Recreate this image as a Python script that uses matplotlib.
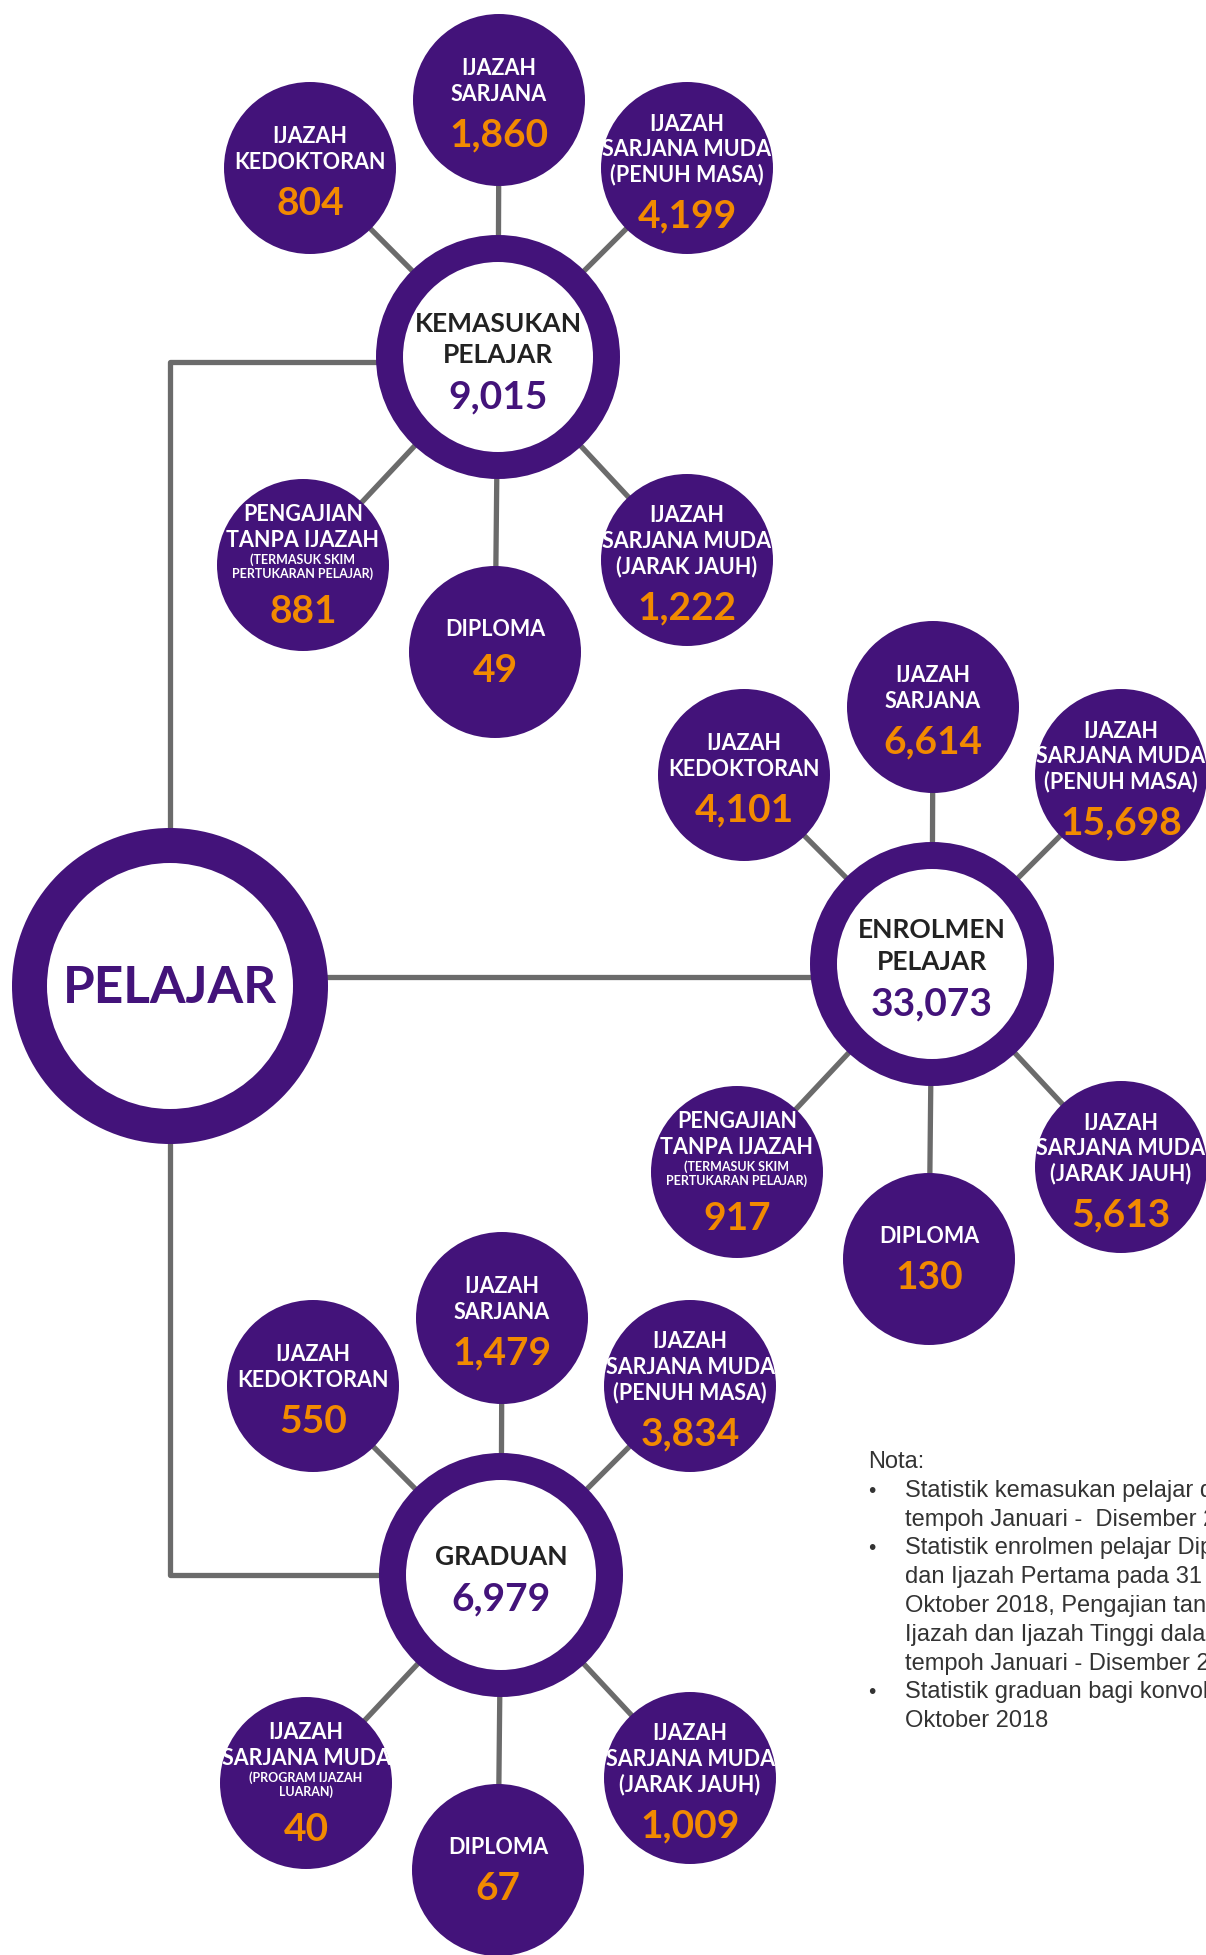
import matplotlib
matplotlib.use("Agg")
import matplotlib.pyplot as plt
from matplotlib.patches import Circle

# ---------------- data ----------------
root_label = "PELAJAR"

hub_labels = ["KEMASUKAN\nPELAJAR", "ENROLMEN\nPELAJAR", "GRADUAN"]
hub_totals = [9015, 33073, 6979]

kemasukan_labels = ["IJAZAH\nKEDOKTORAN", "IJAZAH\nSARJANA",
                    "IJAZAH\nSARJANA MUDA\n(PENUH MASA)",
                    "PENGAJIAN\nTANPA IJAZAH", "DIPLOMA",
                    "IJAZAH\nSARJANA MUDA\n(JARAK JAUH)"]
kemasukan_notes = ["", "", "", "(TERMASUK SKIM\nPERTUKARAN PELAJAR)", "", ""]
kemasukan_values = [804, 1860, 4199, 881, 49, 1222]

enrolmen_labels = ["IJAZAH\nKEDOKTORAN", "IJAZAH\nSARJANA",
                   "IJAZAH\nSARJANA MUDA\n(PENUH MASA)",
                   "PENGAJIAN\nTANPA IJAZAH", "DIPLOMA",
                   "IJAZAH\nSARJANA MUDA\n(JARAK JAUH)"]
enrolmen_notes = ["", "", "", "(TERMASUK SKIM\nPERTUKARAN PELAJAR)", "", ""]
enrolmen_values = [4101, 6614, 15698, 917, 130, 5613]

graduan_labels = ["IJAZAH\nKEDOKTORAN", "IJAZAH\nSARJANA",
                  "IJAZAH\nSARJANA MUDA\n(PENUH MASA)",
                  "IJAZAH\nSARJANA MUDA", "DIPLOMA",
                  "IJAZAH\nSARJANA MUDA\n(JARAK JAUH)"]
graduan_notes = ["", "", "", "(PROGRAM IJAZAH\nLUARAN)", "", ""]
graduan_values = [550, 1479, 3834, 40, 67, 1009]

nota_title = "Nota:"
nota_items = [
    ["Statistik kemasukan pelajar dalam", "tempoh Januari -  Disember 2018"],
    ["Statistik enrolmen pelajar Diploma", "dan Ijazah Pertama pada 31",
     "Oktober 2018, Pengajian tanpa", "Ijazah dan Ijazah Tinggi dalam",
     "tempoh Januari - Disember 2018"],
    ["Statistik graduan bagi konvokesyen", "Oktober 2018"],
]

# ---------------- style / layout ----------------
W, H = 1206, 1955
PURPLE = "#43137a"
ORANGE = "#f28a00"
GREY = "#6b6b6b"
DARK = "#222222"
FONT = "Lato"

root_pos = (170, 986)
root_r_out, root_r_in = 158, 123
hub_pos = [(498, 357), (932, 964), (501, 1575)]
hub_r_out, hub_r_in = 122, 95
sat_r = 86
# satellite offsets relative to hub centre
sat_offsets = [(-188, -189), (1, -257), (189, -189),
               (-195, 208), (-3, 295), (189, 203)]

fig = plt.figure(figsize=(W / 100, H / 100), dpi=100)
ax = fig.add_axes([0, 0, 1, 1])
ax.set_xlim(0, W)
ax.set_ylim(H, 0)
ax.axis("off")

LW = 3.8

# root connectors
line_y_top = 362
line_y_mid = 977
ax.plot([root_pos[0], root_pos[0], hub_pos[0][0]],
        [root_pos[1], line_y_top, line_y_top], color=GREY, lw=LW, zorder=1,
        solid_capstyle="butt")
ax.plot([root_pos[0], hub_pos[1][0]], [line_y_mid, line_y_mid],
        color=GREY, lw=LW, zorder=1, solid_capstyle="butt")
ax.plot([root_pos[0], root_pos[0], hub_pos[2][0]],
        [root_pos[1], hub_pos[2][1], hub_pos[2][1]], color=GREY, lw=LW, zorder=1,
        solid_capstyle="butt")

# root circle
ax.add_patch(Circle(root_pos, root_r_out, fc=PURPLE, ec="none", zorder=3))
ax.add_patch(Circle(root_pos, root_r_in, fc="white", ec="none", zorder=4))
ax.text(root_pos[0], root_pos[1] + 2, root_label, ha="center", va="center",
        color=PURPLE, fontsize=37, fontweight="bold", family=FONT, zorder=5)


def stack_text(cx, cy, label, note, value, hub=False):
    """Draw label lines, optional small note lines and the value, stacked."""
    items = []  # (text, kind)
    for ln in label.split("\n"):
        items.append((ln, "label"))
    if note:
        for ln in note.split("\n"):
            items.append((ln, "note"))
    items.append((f"{value:,}", "value"))
    ys = [0.0]
    lab_sp = 31 if hub else 25.5
    for i in range(1, len(items)):
        prev, cur = items[i - 1][1], items[i][1]
        if cur == "label":
            d = lab_sp
        elif cur == "note":
            d = 19 if prev == "label" else 14
        else:
            d = (42 if hub else 41) if prev == "label" else 38
        ys.append(ys[-1] + d)
    mid = (ys[0] + ys[-1]) / 2
    n_lab = sum(1 for _, k in items if k == "label")
    if hub:
        off = 3
    elif n_lab == 1 or note:
        off = -2
    else:
        off = 2
    for (txt, kind), y in zip(items, ys):
        yy = cy + y - mid + off
        if kind == "label":
            ax.text(cx, yy, txt, ha="center", va="center",
                    color=DARK if hub else "white",
                    fontsize=19 if hub else 15.5, fontweight="bold",
                    family=FONT, zorder=7)
        elif kind == "note":
            ax.text(cx, yy, txt, ha="center", va="center", color="white",
                    fontsize=9, fontweight="bold", family=FONT, zorder=7)
        else:
            ax.text(cx, yy, txt, ha="center", va="center",
                    color=PURPLE if hub else ORANGE,
                    fontsize=28, fontweight="bold",
                    family=FONT, zorder=7)


groups = [
    (kemasukan_labels, kemasukan_notes, kemasukan_values),
    (enrolmen_labels, enrolmen_notes, enrolmen_values),
    (graduan_labels, graduan_notes, graduan_values),
]

for (hx, hy), hlab, htot, (labs, notes, vals) in zip(hub_pos, hub_labels,
                                                     hub_totals, groups):
    for (dx, dy), lab, note, val in zip(sat_offsets, labs, notes, vals):
        sx, sy = hx + dx, hy + dy
        ax.plot([hx, sx], [hy, sy], color=GREY, lw=LW, zorder=2,
                solid_capstyle="butt")
        ax.add_patch(Circle((sx, sy), sat_r, fc=PURPLE, ec="none", zorder=6))
        stack_text(sx, sy, lab, note, val)
    ax.add_patch(Circle((hx, hy), hub_r_out, fc=PURPLE, ec="none", zorder=6))
    ax.add_patch(Circle((hx, hy), hub_r_in, fc="white", ec="none", zorder=6.5))
    stack_text(hx, hy, hlab, "", htot, hub=True)

# notes
nx_bullet, nx_text = 868, 905
y0 = 1468
sp = 28.8
ax.text(nx_bullet, y0, nota_title, ha="left", va="baseline", color="#333333",
        fontsize=17, family="Liberation Sans", zorder=8)
row = 1
for item in nota_items:
    for j, ln in enumerate(item):
        y = y0 + row * sp
        if j == 0:
            ax.text(nx_bullet, y, "\u2022", ha="left", va="baseline",
                    color="#333333", fontsize=15, family="Liberation Sans")
        ax.text(nx_text, y, ln, ha="left", va="baseline", color="#333333",
                fontsize=17, family="Liberation Sans", zorder=8)
        row += 1

fig.savefig("out.png", dpi=100, facecolor="white")
